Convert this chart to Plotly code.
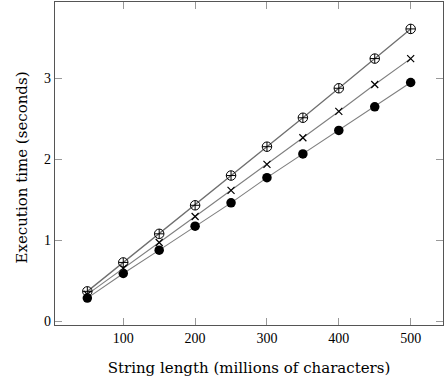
import plotly.graph_objects as go

lengths = [50, 100, 150, 200, 250, 300, 350, 400, 450, 500]
series_oplus = [0.367, 0.725, 1.079, 1.432, 1.80, 2.157, 2.515, 2.88, 3.247, 3.614]
series_x = [0.33, 0.655, 0.972, 1.293, 1.617, 1.938, 2.268, 2.593, 2.926, 3.247]
series_dot = [0.284, 0.589, 0.877, 1.173, 1.462, 1.774, 2.067, 2.358, 2.65, 2.951]

fig = go.Figure()
line_style = dict(color="#7f7f7f", width=1.1)
fig.add_trace(go.Scatter(x=lengths, y=series_dot, mode="lines+markers", line=line_style,
                         marker=dict(symbol="circle", size=9.5, color="black")))
fig.add_trace(go.Scatter(x=lengths, y=series_x, mode="lines+markers", line=line_style,
                         marker=dict(symbol="x-thin", size=7, color="black",
                                     line=dict(color="black", width=1.2))))
fig.add_trace(go.Scatter(x=lengths, y=series_oplus, mode="lines+markers", line=dict(color="#6f6f6f", width=1.3),
                         marker=dict(symbol="circle-cross-open", size=9.5, color="black",
                                     line=dict(color="#222", width=1))))

font = dict(family="Liberation Serif, DejaVu Serif, serif", size=14, color="black")
title_font = dict(family="DejaVu Serif, serif", size=15, color="black")
axis_common = dict(showline=True, linecolor="#555", linewidth=1.2, mirror="allticks",
                   ticks="inside", ticklen=7, tickcolor="#999", tickwidth=1,
                   showgrid=False, zeroline=False, tickfont=font)
fig.update_xaxes(range=[5, 545], tickvals=[100, 200, 300, 400, 500],
                 title=dict(text="String length (millions of characters)", font=title_font, standoff=17),
                 **axis_common)
fig.update_yaxes(range=[-0.049, 3.947], tickvals=[0, 1, 2, 3], **axis_common)
fig.add_annotation(text="Execution time (seconds)", font=title_font, textangle=-90,
                   xref="paper", yref="paper", x=0, y=0.5, xanchor="center", yanchor="middle",
                   xshift=-34, yshift=-4, showarrow=False)
fig.update_layout(width=444, height=384, margin=dict(l=55, r=1, t=2, b=59),
                  plot_bgcolor="white", paper_bgcolor="white", showlegend=False, font=font)
fig.write_html("out.html")
